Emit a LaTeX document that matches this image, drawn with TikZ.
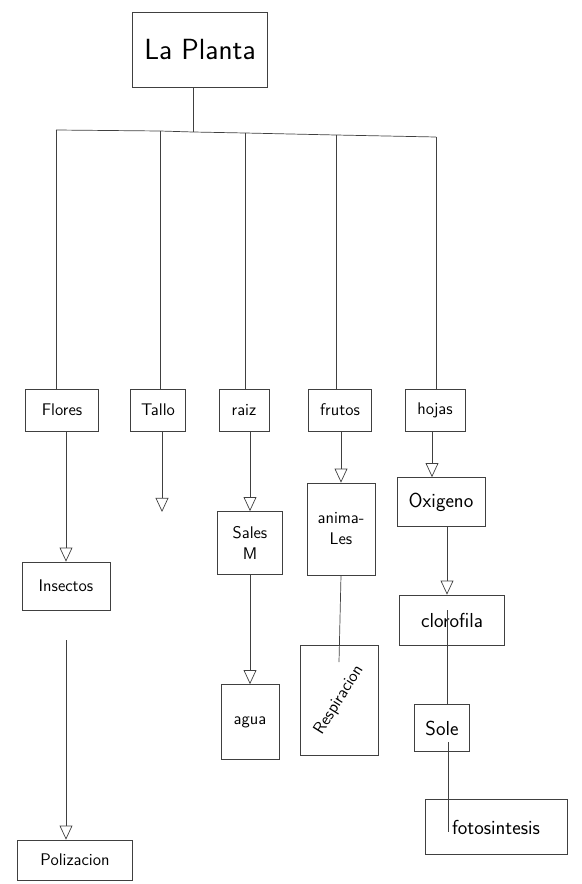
\documentclass[tikz,border=0pt]{standalone}
\usetikzlibrary{arrows.meta}
\begin{document}
\begin{tikzpicture}[x=0.3mm, y=-0.3mm, line width=0.6pt, draw=black!75,
  box/.style={draw, rectangle, inner sep=2pt, font=\sffamily\Large},
  bigbox/.style={box, font=\sffamily\LARGE},
  arr/.style={-{Triangle[open, length=12pt, width=11pt]}}]
  \useasboundingbox (0,0) rectangle (581,884);
  % Root
  \node[box, font=\sffamily\Huge, minimum width=40.5mm, minimum height=22.5mm] (planta) at (200,50) {La Planta};
  % Bus under the root
  \coordinate (stem) at (193,132);
  \coordinate (b1) at (56,130);
  \coordinate (b2) at (160,131);
  \coordinate (b3) at (245,133);
  \coordinate (b4) at (336,135);
  \coordinate (b5) at (436,137);
  \draw (planta.south -| stem) -- (stem);
  \draw (b1) -- (b2) -- (stem) -- (b3) -- (b4) -- (b5);
  % First row
  \node[box, minimum width=21.9mm, minimum height=12.6mm] (flores) at (62,410) {Flores};
  \node[box, minimum width=16.5mm, minimum height=12.6mm] (tallo) at (158,410) {Tallo};
  \node[box, minimum width=15mm, minimum height=12.6mm] (raiz) at (244,410) {raiz};
  \node[box, minimum width=18.9mm, minimum height=12.6mm] (frutos) at (340,410) {frutos};
  \node[box, minimum width=18mm, minimum height=12.6mm] (hojas) at (435,410) {hojas};
  \foreach \b/\n in {b1/flores, b2/tallo, b3/raiz, b4/frutos, b5/hojas}
    \draw (\b) -- (\b |- \n.north);
  % Flores branch
  \node[box, minimum width=26.4mm, minimum height=14.4mm] (insectos) at (66,586) {Insectos};
  \node[box, minimum width=34.5mm, minimum height=12mm] (polizacion) at (75,860) {Polizacion};
  \draw[arr] (insectos.north |- flores.south) -- (insectos.north);
  \draw[arr] (insectos.south) ++(0,30) -- (insectos.south |- polizacion.north);
  % Tallo branch
  \coordinate (tallofin) at (162,512);
  \draw[arr] (tallofin |- tallo.south) -- (tallofin);
  % Raiz branch
  \node[box, align=center, minimum width=19.5mm, minimum height=18.9mm] (sales) at (250,543) {Sales\\M};
  \node[box, minimum width=17.4mm, minimum height=22.5mm] (agua) at (250,722) {agua};
  \draw[arr] (sales.north |- raiz.south) -- (sales.north);
  \draw[arr] (sales) -- (agua);
  % Frutos branch
  \node[box, align=center, minimum width=20.4mm, minimum height=27.6mm] (animales) at (341,529) {anima-\\Les};
  \node[box, inner sep=0pt, minimum width=23.4mm, minimum height=33mm] (respiracion) at (339,700) {\rotatebox{58}{Respiracion}};
  \coordinate (respfin) at (339,662);
  \draw[arr] (animales.north |- frutos.south) -- (animales.north);
  \draw (animales.south) -- (respfin);
  % Hojas branch
  \node[bigbox, minimum width=26.4mm, minimum height=14.7mm] (oxigeno) at (441,502) {Oxigeno};
  \node[bigbox, minimum width=31.5mm, minimum height=15mm] (clorofila) at (452,620) {clorofila};
  \node[bigbox, minimum width=16.5mm, minimum height=14.1mm] (sol) at (442,728) {Sole};
  \node[bigbox, minimum width=42.6mm, minimum height=16.5mm] (fotosintesis) at (496,827) {fotosintesis};
  \coordinate (h1) at (432,431);
  \coordinate (h2) at (447,527);
  \coordinate (h3) at (447,610);
  \coordinate (h4) at (448,742);
  \coordinate (h5) at (448,832);
  \draw[arr] (h1) -- (h1 |- oxigeno.north);
  \draw[arr] (h2) -- (h2 |- clorofila.north);
  \draw (h3) -- (h3 |- sol.north);
  \draw (h4) -- (h5);
\end{tikzpicture}
\end{document}
